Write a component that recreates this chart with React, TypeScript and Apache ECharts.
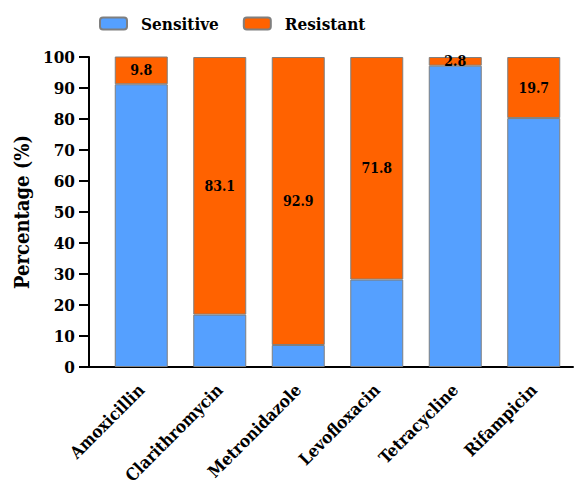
import React, { useEffect, useRef } from "react";
import * as echarts from "echarts";

const categories = ["Amoxicillin", "Clarithromycin", "Metronidazole", "Levofloxacin", "Tetracycline", "Rifampicin"];
const sensitive = [91.2, 16.9, 7.1, 28.2, 97.2, 80.3];
const resistant = [9.8, 83.1, 92.9, 71.8, 2.8, 19.7];
const yTicks = { min: 0, max: 100, interval: 10 };

const FONT = "DejaVu Serif Condensed, DejaVu Serif";

export default function App() {
  const ref = useRef<HTMLDivElement>(null);
  useEffect(() => {
    document.body.style.margin = "0";
    const chart = echarts.init(ref.current!, null, { renderer: "svg" });
    const gridLeft = 102;
    const gridBottom = 122;
    const H = 489;
    chart.setOption({
      animation: false,
      backgroundColor: "#ffffff",
      textStyle: { fontFamily: FONT },
      legend: {
        top: 15,
        left: 99,
        padding: 0,
        itemWidth: 27,
        itemHeight: 12,
        itemGap: 24,
        textStyle: { fontFamily: FONT, fontWeight: "bold", fontSize: 17, color: "#000", padding: [0, 0, 0, 9] },
        data: ["Sensitive", "Resistant"],
      },
      grid: { left: gridLeft, right: 2, top: 57, bottom: gridBottom, containLabel: false, outerBoundsMode: "none" },
      xAxis: {
        type: "category",
        data: categories,
        axisLine: { lineStyle: { color: "#000", width: 2 } },
        axisTick: { alignWithLabel: true, length: 10, lineStyle: { color: "#000", width: 2 } },
        axisLabel: { rotate: 45, margin: 20, color: "#000", fontFamily: FONT, fontWeight: "bold", fontSize: 17, interval: 0 },
      },
      yAxis: {
        type: "value",
        min: yTicks.min,
        max: yTicks.max,
        interval: yTicks.interval,
        offset: 13,
        name: "Percentage (%)",
        nameLocation: "middle",
        nameGap: 49,
        nameTextStyle: { fontFamily: FONT, fontWeight: "bold", fontSize: 20, color: "#000" },
        axisLine: { show: true, lineStyle: { color: "#000", width: 2 } },
        axisTick: { show: true, length: 10, lineStyle: { color: "#000", width: 2 } },
        axisLabel: { margin: 14, color: "#000", fontFamily: FONT, fontWeight: "bold", fontSize: 17 },
        splitLine: { show: false },
      },
      graphic: [
        {
          type: "line",
          shape: { x1: gridLeft - 14, y1: H - gridBottom, x2: gridLeft, y2: H - gridBottom },
          style: { stroke: "#000", lineWidth: 2 },
        },
      ],
      series: [
        {
          name: "Sensitive",
          type: "bar",
          stack: "total",
          barWidth: 53,
          data: sensitive,
          itemStyle: { color: "#55A0FF", borderColor: "#7f7f7f", borderWidth: 1 },
        },
        {
          name: "Resistant",
          type: "bar",
          stack: "total",
          barWidth: 53,
          data: resistant,
          itemStyle: { color: "#FF6200", borderColor: "#7f7f7f", borderWidth: 1 },
          label: { show: true, position: "inside", color: "#000", fontFamily: FONT, fontWeight: "bold", fontSize: 14 },
        },
      ],
    });
    return () => chart.dispose();
  }, []);
  return <div ref={ref} style={{ width: 575, height: 489 }} />;
}
